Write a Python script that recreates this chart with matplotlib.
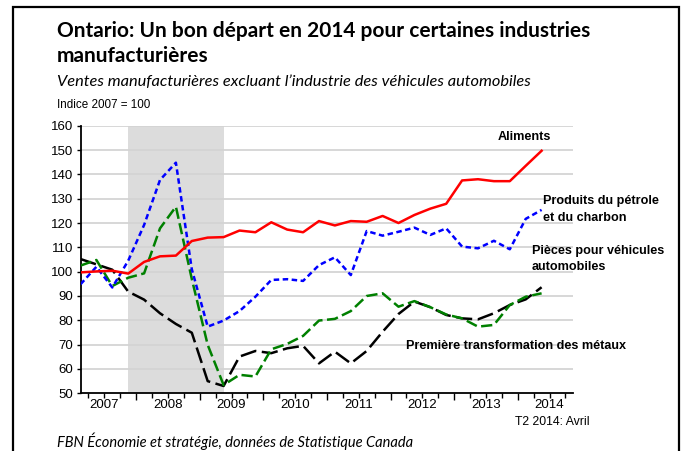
import matplotlib
matplotlib.use("Agg")
import matplotlib.pyplot as plt
from matplotlib.patches import Rectangle
from matplotlib.ticker import FixedLocator, NullFormatter

# ---- data (quarterly, 2007T1 .. 2014T2) ----
years = [2007, 2008, 2009, 2010, 2011, 2012, 2013, 2014]
aliments = [99.7, 100.1, 100.4, 99.2, 104.0, 106.3, 106.6, 112.6, 114.0, 114.2,
            116.9, 116.2, 120.3, 117.3, 116.2, 120.8, 119.0, 120.8, 120.5, 122.9,
            120.0, 123.3, 125.9, 127.9, 137.5, 138.0, 137.2, 137.2, 143.5, 149.7]
petrole = [94.8, 102.0, 93.5, 104.5, 119.2, 137.7, 144.8, 101.0, 77.4, 79.9,
           83.8, 89.7, 96.6, 96.9, 96.2, 102.7, 105.9, 98.6, 116.7, 114.8,
           116.4, 118.1, 115.1, 117.8, 110.3, 109.6, 112.7, 109.2, 121.7, 125.4]
pieces = [102.5, 104.8, 94.1, 97.5, 99.3, 117.8, 126.7, 97.0, 69.9, 53.4,
          57.6, 56.9, 68.1, 70.3, 73.6, 79.9, 80.6, 83.8, 90.0, 91.1,
          85.6, 87.9, 85.4, 82.4, 80.8, 77.4, 78.1, 86.3, 89.7, 91.1]
metaux = [105.2, 103.0, 100.8, 91.8, 88.5, 82.9, 78.5, 74.9, 55.0, 53.0,
          65.1, 67.4, 66.5, 68.5, 69.5, 62.3, 67.1, 62.3, 67.4, 75.3,
          82.6, 87.7, 85.4, 82.2, 80.8, 80.4, 82.9, 86.3, 88.6, 93.6]
recession = (3, 9)  # 2007T4 .. 2009T2 (quarter index)
yticks = [50, 60, 70, 80, 90, 100, 110, 120, 130, 140, 150, 160]

title1 = "Ontario: Un bon départ en 2014 pour certaines industries"
title2 = "manufacturières"
subtitle = "Ventes manufacturières excluant l\u2019industrie des véhicules automobiles"
unit = "Indice 2007 = 100"
source = "FBN Économie et stratégie, données de Statistique Canada"
note = "T2 2014: Avril"

W, H = 682, 451
fig = plt.figure(figsize=(W / 100, H / 100), dpi=100)

ax = fig.add_axes([80.5 / W, 1 - 393.3 / H, (573.4 - 80.5) / W, (393.3 - 125.7) / H])
x = list(range(len(aliments)))

ax.axvspan(recession[0], recession[1], color="#dcdcdc", zorder=0, lw=0)
for t in yticks[1:]:
    ax.axhline(t, color="#d4d4d4", lw=1.3, zorder=1)

ax.plot(x, aliments, color="#ff0000", lw=1.8, zorder=5)
ax.plot(x, petrole, color="#0000ff", lw=1.8, dashes=(2.2, 1.4), zorder=4)
ax.plot(x, pieces, color="#008000", lw=1.8, dashes=(4.5, 1.8), zorder=3)
ax.plot(x, metaux, color="#000000", lw=1.8, dashes=(6.5, 2.2), zorder=2)

ax.set_xlim(0, 31)
ax.set_ylim(50, 160)
ax.set_yticks(yticks)
for s in ["top", "right"]:
    ax.spines[s].set_visible(False)
ax.spines["left"].set_linewidth(1.3)
ax.spines["bottom"].set_linewidth(1.3)

nyears = len(years)
ax.xaxis.set_major_locator(FixedLocator([3.5 + 4 * i for i in range(nyears - 1)]))
ax.xaxis.set_minor_locator(FixedLocator([q + 0.5 for q in range(31)]))
ax.xaxis.set_major_formatter(NullFormatter())
ax.tick_params(axis="x", which="major", length=5, width=1, direction="out")
ax.tick_params(axis="x", which="minor", length=3.5, width=1, direction="out")
ax.tick_params(axis="y", length=3, width=1, direction="out", pad=2,
               labelsize=9.5)
for lab in ax.get_yticklabels():
    lab.set_fontfamily("Liberation Sans")
for i, yr in enumerate(years):
    ax.text(1.5 + 4 * i, 47.5, str(yr), ha="center", va="top",
            fontsize=9.5, family="Liberation Sans")

fig.text(57 / W, 1 - 37 / H, title1, ha="left", va="baseline", fontsize=15,
         fontweight="bold", family="Lato")
fig.text(57 / W, 1 - 62 / H, title2, ha="left", va="baseline", fontsize=15,
         fontweight="bold", family="Lato")
fig.text(57 / W, 1 - 86 / H, subtitle, ha="left", va="baseline", fontsize=11.8,
         style="italic", family="Lato")
fig.text(57 / W, 1 - 108 / H, unit, ha="left", va="baseline", fontsize=8.4,
         family="Liberation Sans")
fig.text(57 / W, 1 - 447 / H, source, ha="left", va="baseline", fontsize=10.5,
         style="italic", family="Lato")
fig.text(552 / W, 1 - 421.7 / H, note, ha="center", va="center", fontsize=8.8,
         family="Liberation Sans")

lab_kw = dict(fontsize=9.1, fontweight="bold", family="Liberation Sans",
              va="center", linespacing=1.45)
fig.text(524 / W, 1 - 136.7 / H, "Aliments", ha="center", **lab_kw)
fig.text(543 / W, 1 - 209.5 / H, "Produits du pétrole\net du charbon", ha="left", **lab_kw)
fig.text(531.7 / W, 1 - 259 / H, "Pièces pour véhicules\nautomobiles", ha="left", **lab_kw)
fig.text(406 / W, 1 - 345.7 / H, "Première transformation des métaux", ha="left", **lab_kw)

fig.patches.append(Rectangle((13 / W, -0.05), (679 - 13) / W, 1.05 - 7 / H,
                             transform=fig.transFigure, fill=False, lw=1.6,
                             edgecolor="black"))

fig.savefig("out.png", dpi=100)
